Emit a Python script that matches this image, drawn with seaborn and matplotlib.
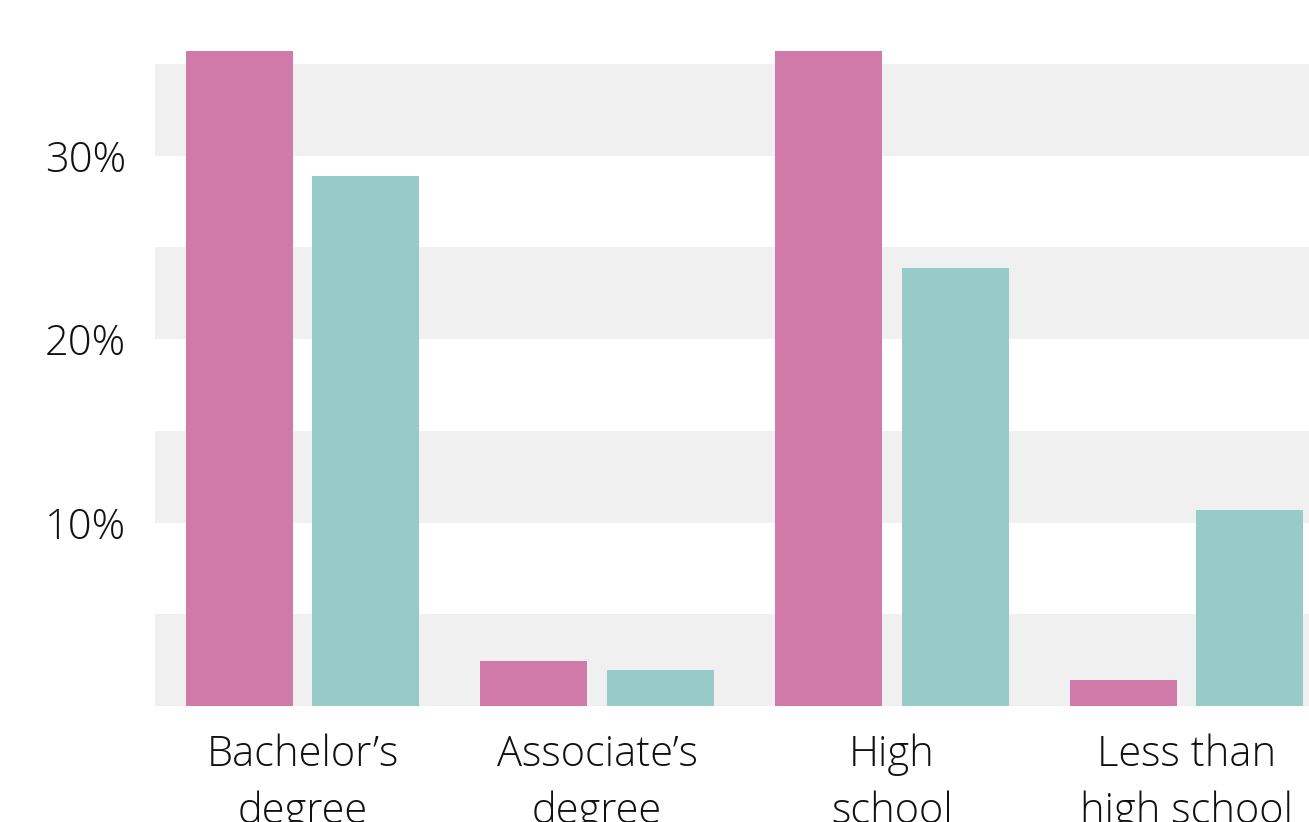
import pandas as pd
import seaborn as sns
import matplotlib.pyplot as plt

# Education level shares (percent), two series
categories = ["Bachelor’s\ndegree", "Associate’s\ndegree", "High\nschool", "Less than\nhigh school"]
series_names = ["Series 1", "Series 2"]
series_1 = [35.7, 2.45, 35.7, 1.4]
series_2 = [28.9, 1.95, 23.9, 10.7]
y_ticks = [10, 20, 30]
y_tick_labels = ["10%", "20%", "30%"]

df = pd.DataFrame({
    "Category": categories * 2,
    "Series": [series_names[0]] * 4 + [series_names[1]] * 4,
    "Value": series_1 + series_2,
})

sns.set_theme(style="white")
plt.rcParams["font.family"] = ["Open Sans", "DejaVu Sans"]

fig = plt.figure(figsize=(13.09, 8.22), dpi=100)
ax = fig.add_axes([0.1185, 0.1411, 0.9005, 0.848])

# alternating background bands
for lo in [0, 10, 20, 30]:
    ax.axhspan(lo, lo + 5, color="#F0F0F0", zorder=0, lw=0)

sns.barplot(data=df, x="Category", y="Value", hue="Series",
            palette=["#D07AAA", "#97CBC8"], width=0.86, gap=0.156,
            saturation=1, linewidth=0, legend=False, ax=ax, zorder=2)

ax.set_xlim(-0.5, 3.5)
ax.set_ylim(0, 38)
ax.set_yticks(y_ticks)
ax.set_yticklabels(y_tick_labels)
ax.set_xlabel("")
ax.set_ylabel("")
for s in ax.spines.values():
    s.set_visible(False)
ax.tick_params(axis="y", length=0, pad=21, labelsize=30, labelcolor="#111111")
ax.tick_params(axis="x", length=0, pad=20, labelsize=30, labelcolor="#111111")
for lab in ax.get_xticklabels() + ax.get_yticklabels():
    lab.set_fontweight("light")
for lab in ax.get_yticklabels():
    lab.set_verticalalignment("center_baseline")
for lab in ax.get_xticklabels():
    lab.set_linespacing(1.45)
    lab.set_verticalalignment("top")

fig.savefig("out.png", dpi=100)
